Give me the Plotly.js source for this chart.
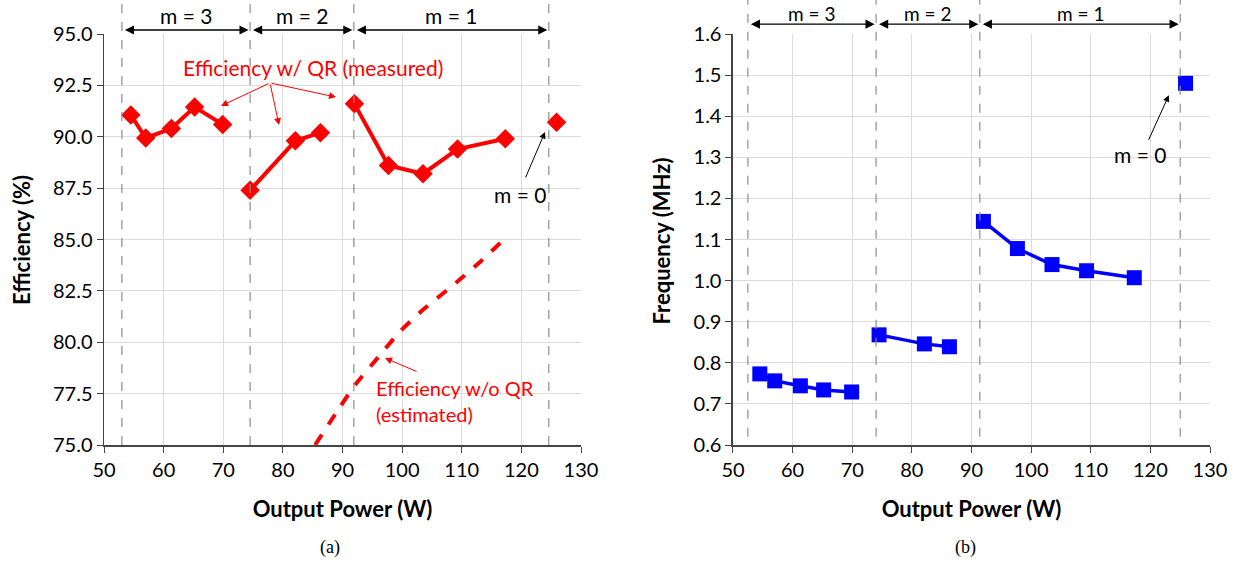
<!DOCTYPE html>
<html><head><meta charset="utf-8">
<script src="https://cdn.plot.ly/plotly-3.0.1.min.js"></script>
<style>body{margin:0;background:#fff}#c{width:1242px;height:562px}</style>
</head><body><div id="c"></div>
<script>
// Data
const power = [54.5, 57.0, 61.3, 65.2, 69.9, 74.5, 82.1, 86.3, 92.0, 97.7, 103.5, 109.3, 117.3, 125.9];
const modeM = [3, 3, 3, 3, 3, 2, 2, 2, 1, 1, 1, 1, 1, 0];
const effMeasured = [91.06, 89.94, 90.40, 91.45, 90.60, 87.40, 89.80, 90.20, 91.60, 88.60, 88.20, 89.40, 89.90, 90.70];
const freqMHz = [0.773, 0.756, 0.744, 0.734, 0.729, 0.868, 0.846, 0.839, 1.144, 1.078, 1.039, 1.024, 1.007, 1.480];
const estPower = [85.4, 89.6, 92.1, 96.3, 99.6, 103.6, 108.6, 113.1, 117.3];
const effEstimated = [75.0, 76.86, 77.92, 79.38, 80.51, 81.6, 82.79, 83.92, 85.06];
const boundariesA = [53.0, 74.5, 91.9, 124.6];
const boundariesB = [52.5, 74.0, 91.4, 125.0];
const modeLabels = ["m = 3", "m = 2", "m = 1"];
const xTicks = [50, 60, 70, 80, 90, 100, 110, 120, 130];
const effTicks = [75, 77.5, 80, 82.5, 85, 87.5, 90, 92.5, 95];
const freqTicks = [0.6, 0.7, 0.8, 0.9, 1.0, 1.1, 1.2, 1.3, 1.4, 1.5, 1.6];

function seg(xs, ys) {
  const X = [], Y = [];
  for (let i = 0; i < xs.length; i++) {
    if (i > 0 && modeM[i] !== modeM[i - 1]) { X.push(null); Y.push(null); }
    X.push(xs[i]); Y.push(ys[i]);
  }
  return [X, Y];
}
const [ex, ey] = seg(power, effMeasured);
const [fx, fy] = seg(power, freqMHz);

const FONT = "Lato, 'Open Sans', sans-serif";
const traces = [
  {x: ex, y: ey, xaxis: 'x', yaxis: 'y', mode: 'lines+markers', connectgaps: false,
   line: {color: '#ff0000', width: 4}, marker: {symbol: 'diamond', size: 15, color: '#ff0000'}, hoverinfo: 'none'},
  {x: estPower, y: effEstimated, xaxis: 'x', yaxis: 'y', mode: 'lines',
   line: {color: '#ff0000', width: 4, dash: 'dash', shape: 'spline', smoothing: 0.6}, hoverinfo: 'none'},
  {x: fx, y: fy, xaxis: 'x2', yaxis: 'y2', mode: 'lines+markers', connectgaps: false,
   line: {color: '#0000ff', width: 3.5}, marker: {symbol: 'square', size: 15, color: '#0000ff'}, hoverinfo: 'none'}
];

const axCommon = {
  showgrid: true, gridcolor: '#dcdcdc', gridwidth: 1, zeroline: false,
  ticks: 'outside', ticklen: 6, tickcolor: '#444', showline: true, linecolor: '#444', linewidth: 1.5,
  tickfont: {family: FONT, size: 20, color: '#000'}
};
const xTitle = {text: '<b>Output Power (W)</b>', font: {family: FONT, size: 22, color: '#000'}, standoff: 22};

const shapes = [];
const annotations = [];
function addBoundaries(bs, xr, topPaper, botPaper) {
  bs.forEach(b => shapes.push({type: 'line', xref: xr, yref: 'paper', x0: b, x1: b, y0: botPaper, y1: topPaper,
    line: {color: '#8c8c8c', width: 1.2, dash: 'dash'}}));
}
addBoundaries(boundariesA, 'x', 1.083, 0);
addBoundaries(boundariesB, 'x2', 1.085, 0.02);

function addModeArrows(bs, xr, arrowY, textY, fs) {
  for (let i = 0; i < 3; i++) {
    const a = bs[i] + 0.25, b = bs[i + 1] - 0.25;
    annotations.push({xref: xr, yref: 'paper', x: b, y: arrowY, axref: xr, ayref: 'pixel', ax: a, ay: 0,
      showarrow: true, arrowhead: 2, startarrowhead: 2, arrowside: 'end+start', arrowsize: 1.3, startarrowsize: 1.3,
      arrowwidth: 1.4, arrowcolor: '#000', text: ''});
    annotations.push({xref: xr, yref: 'paper', x: (bs[i] + bs[i + 1]) / 2, y: textY,
      text: modeLabels[i], showarrow: false, font: {family: FONT, size: fs, color: '#000'}, yanchor: 'middle'});
  }
}
addModeArrows(boundariesA, 'x', 1.0097, 1.044, 21);
addModeArrows(boundariesB, 'x2', 1.024, 1.050, 19);

// Y-axis titles (placed as rotated texts next to the axes)
annotations.push({xref: 'paper', yref: 'paper', x: -0.0741, y: 0.4988, textangle: -90, text: '<b>Efficiency (%)</b>',
  showarrow: false, xanchor: 'center', yanchor: 'middle', font: {family: FONT, size: 22, color: '#000'}});
annotations.push({xref: 'paper', yref: 'paper', x: 0.5045, y: 0.4975, textangle: -90, text: '<b>Frequency (MHz)</b>',
  showarrow: false, xanchor: 'center', yanchor: 'middle', font: {family: FONT, size: 22, color: '#000'}});

// Left plot labels
annotations.push({xref: 'x', yref: 'y', x: 85.05, y: 93.35, text: 'Efficiency w/ QR (measured)', showarrow: false,
  font: {family: FONT, size: 21, color: '#ff0000'}});
[[69.62, 91.5], [79.35, 90.57], [88.91, 91.93]].forEach(h => annotations.push({
  xref: 'x', yref: 'y', x: h[0], y: h[1], axref: 'x', ayref: 'y', ax: 77.84, ay: 92.62, text: '',
  showarrow: true, arrowhead: 2, arrowsize: 1.4, arrowwidth: 1, arrowcolor: '#ff0000'}));
annotations.push({xref: 'x', yref: 'y', x: 95.2, y: 77.14, xanchor: 'left', align: 'left',
  text: 'Efficiency w/o QR<br>(estimated)', showarrow: false, font: {family: FONT, size: 20, color: '#ff0000'}});
annotations.push({xref: 'x', yref: 'y', x: 97.13, y: 79.23, axref: 'x', ayref: 'y', ax: 102.66, ay: 78.55, text: '',
  showarrow: true, arrowhead: 2, arrowsize: 1.4, arrowwidth: 1, arrowcolor: '#ff0000'});
annotations.push({xref: 'x', yref: 'y', x: 119.77, y: 87.17, text: 'm = 0', showarrow: false,
  font: {family: FONT, size: 21, color: '#000'}});
annotations.push({xref: 'x', yref: 'y', x: 123.96, y: 90.23, axref: 'x', ayref: 'y', ax: 120.6, ay: 87.95, text: '',
  showarrow: true, arrowhead: 2, arrowsize: 1.3, arrowwidth: 1, arrowcolor: '#000'});
// Right plot label
annotations.push({xref: 'x2', yref: 'y2', x: 118.26, y: 1.307, text: 'm = 0', showarrow: false,
  font: {family: FONT, size: 21, color: '#000'}});
annotations.push({xref: 'x2', yref: 'y2', x: 123.1, y: 1.451, axref: 'x2', ayref: 'y2', ax: 119.6, ay: 1.339, text: '',
  showarrow: true, arrowhead: 2, arrowsize: 1.3, arrowwidth: 1, arrowcolor: '#000'});
// captions
annotations.push({xref: 'paper', yref: 'paper', x: (318 - 104) / 1106, y: (445 - 547) / 411, text: '(a)', showarrow: false,
  font: {family: "'Liberation Serif', 'DejaVu Serif', serif", size: 18, color: '#000'}, yanchor: 'middle'});
annotations.push({xref: 'paper', yref: 'paper', x: (978 - 104) / 1106, y: (445 - 547) / 411, text: '(b)', showarrow: false,
  font: {family: "'Liberation Serif', 'DejaVu Serif', serif", size: 18, color: '#000'}, yanchor: 'middle'});

const layout = {
  width: 1242, height: 562, showlegend: false,
  paper_bgcolor: '#fff', plot_bgcolor: '#fff',
  margin: {l: 104, r: 32, t: 34, b: 117},
  xaxis: Object.assign({}, axCommon, {domain: [0, 0.4313], range: [50, 130], tickvals: xTicks, title: xTitle}),
  yaxis: Object.assign({}, axCommon, {domain: [0, 1], range: [75, 95], tickvals: effTicks, tickformat: '.1f'}),
  xaxis2: Object.assign({}, axCommon, {domain: [0.5687, 1], range: [50, 130], tickvals: xTicks, title: xTitle, anchor: 'y2'}),
  yaxis2: Object.assign({}, axCommon, {domain: [0, 1], range: [0.6, 1.6], tickvals: freqTicks, tickformat: '.1f', anchor: 'x2'}),
  shapes: shapes, annotations: annotations
};
Plotly.newPlot('c', traces, layout, {staticPlot: true});
</script></body></html>
